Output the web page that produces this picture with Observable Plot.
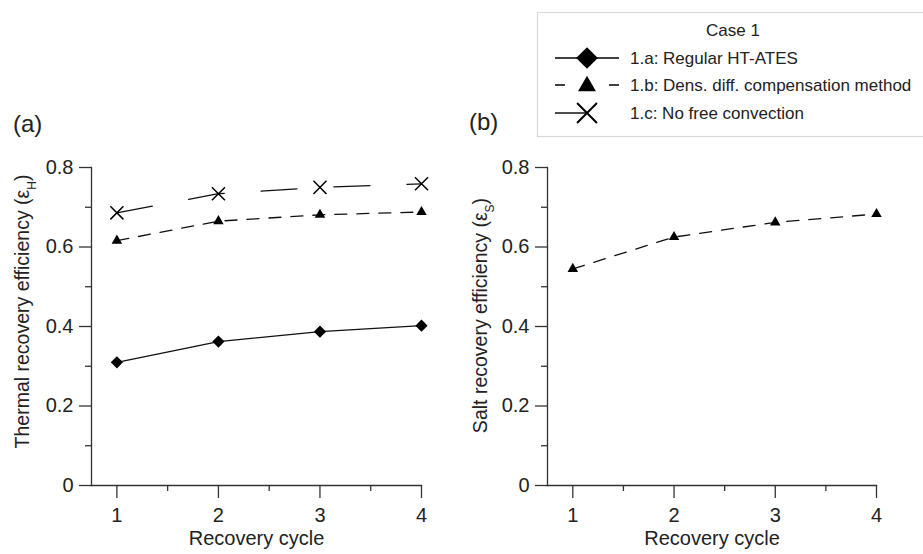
<!DOCTYPE html>
<html>
<head>
<meta charset="utf-8">
<script src="https://cdn.jsdelivr.net/npm/d3@7"></script>
<script src="https://cdn.jsdelivr.net/npm/@observablehq/plot@0.6"></script>
<style>
  body { margin: 0; background: #fff; }
  #wrap { position: relative; width: 923px; height: 554px; font-family: "Liberation Sans", Arial, sans-serif; color: #222; overflow: hidden; }
  .pan { position: absolute; top: 0; }
  .tag { position: absolute; font-size: 24px; line-height: 1; }
  #legend { position: absolute; left: 0; top: 0; }
</style>
</head>
<body>
<div id="wrap">
  <div class="tag" style="left:13px; top:112px;">(a)</div>
  <div class="tag" style="left:469px; top:110px;">(b)</div>
  <div id="left" class="pan" style="left:0px;"></div>
  <div id="right" class="pan" style="left:461px;"></div>
  <svg id="legend" width="923" height="554"></svg>
</div>
<script>
// ---- data ----
const cycles = [1, 2, 3, 4];
const thermalRegular  = [0.310, 0.362, 0.387, 0.402]; // 1.a
const thermalDensComp = [0.616, 0.665, 0.681, 0.688]; // 1.b
const thermalNoConv   = [0.686, 0.734, 0.750, 0.759]; // 1.c
const saltDensComp    = [0.545, 0.625, 0.662, 0.683]; // 1.b
const yTicks = [0, 0.2, 0.4, 0.6, 0.8];
const yMinorTicks = [0.1, 0.3, 0.5, 0.7];
const xTicks = [1, 2, 3, 4];
const xMinorTicks = [1.5, 2.5, 3.5];
const seriesNames = ["1.a: Regular HT-ATES", "1.b: Dens. diff. compensation method", "1.c: No free convection"];
const legendTitle = "Case 1";
const xLabel = "Recovery cycle";
const yLabelLeft = ["Thermal recovery efficiency (ε", "H", ")"];
const yLabelRight = ["Salt recovery efficiency (ε", "S", ")"];

const FONT = "'Liberation Sans', Arial, sans-serif";
const AX = "#333";

const rows = arr => cycles.map((c, i) => ({x: c, y: arr[i]}));

function axes() {
  return [
    Plot.frame({anchor: "left", stroke: AX, strokeWidth: 1.3}),
    Plot.frame({anchor: "bottom", stroke: AX, strokeWidth: 1.3}),
    Plot.axisY({ticks: yTicks, tickSize: 12, tickPadding: 6, fontSize: 20, fill: "#222", stroke: AX, strokeWidth: 1.3,
      tickFormat: d => d === 0 ? "0" : d.toFixed(1), label: null}),
    Plot.axisY({ticks: yMinorTicks, tickSize: 6, stroke: AX, strokeWidth: 1.3, tickFormat: () => "", label: null}),
    Plot.axisX({ticks: xTicks, tickSize: 13, tickPadding: 9, fontSize: 20, fill: "#222", stroke: AX, strokeWidth: 1.3,
      tickFormat: d => String(d), label: null}),
    Plot.axisX({ticks: xMinorTicks, tickSize: 6, stroke: AX, strokeWidth: 1.3, tickFormat: () => "", label: null}),
    Plot.text([xLabel], {frameAnchor: "bottom", dy: 59, fontSize: 20, fill: "#222"})
  ];
}

function subLabel(svg, parts) {
  const full = parts.join("");
  d3.select(svg).selectAll("text").filter(function() { return this.textContent === full; })
    .each(function() {
      const t = d3.select(this);
      t.text(null);
      t.append("tspan").text(parts[0]);
      t.append("tspan").attr("font-size", 12).attr("baseline-shift", "sub").text(parts[1]);
      t.append("tspan").text(parts[2]);
    });
}

const leftPlot = Plot.plot({
  width: 461, height: 554,
  marginLeft: 91, marginRight: 40, marginTop: 167, marginBottom: 69,
  style: {fontFamily: FONT, background: "transparent"},
  x: {domain: [0.75, 4]},
  y: {domain: [0, 0.8]},
  marks: [
    ...axes(),
    Plot.text([yLabelLeft.join("")], {frameAnchor: "left", textAnchor: "middle", rotate: -90, dx: -69, dy: -15, fontSize: 19.5, fill: "#222"}),
    Plot.line(rows(thermalRegular), {x: "x", y: "y", stroke: "#111", strokeWidth: 1.3}),
    Plot.line(rows(thermalDensComp), {x: "x", y: "y", stroke: "#111", strokeWidth: 1.3, strokeDasharray: "12,10"}),
    Plot.line(rows(thermalNoConv), {x: "x", y: "y", stroke: "#111", strokeWidth: 1.3, strokeDasharray: "36,37"}),
    Plot.dot(rows(thermalRegular), {x: "x", y: "y", symbol: "diamond2", r: 5.5, fill: "#000"}),
    Plot.dot(rows(thermalDensComp), {x: "x", y: "y", symbol: "triangle2", r: 5, fill: "#000"}),
    Plot.dot(rows(thermalNoConv), {x: "x", y: "y", symbol: "times", r: 6, stroke: "#000", strokeWidth: 1.5})
  ]
});
subLabel(leftPlot, yLabelLeft);
document.getElementById("left").append(leftPlot);

const rightPlot = Plot.plot({
  width: 462, height: 554,
  marginLeft: 86, marginRight: 47, marginTop: 167, marginBottom: 69,
  style: {fontFamily: FONT, background: "transparent"},
  x: {domain: [0.75, 4]},
  y: {domain: [0, 0.8]},
  marks: [
    ...axes(),
    Plot.text([yLabelRight.join("")], {frameAnchor: "left", textAnchor: "middle", rotate: -90, dx: -67, dy: -11, fontSize: 19.5, fill: "#222"}),
    Plot.line(rows(saltDensComp), {x: "x", y: "y", stroke: "#111", strokeWidth: 1.3, strokeDasharray: "12,10"}),
    Plot.dot(rows(saltDensComp), {x: "x", y: "y", symbol: "triangle2", r: 5, fill: "#000"})
  ]
});
subLabel(rightPlot, yLabelRight);
document.getElementById("right").append(rightPlot);

// ---- legend ----
const lg = d3.select("#legend").style("font-family", FONT);
lg.append("rect").attr("x", 537.5).attr("y", 12.5).attr("width", 390).attr("height", 124)
  .attr("fill", "#fff").attr("stroke", "#d8d8d8").attr("stroke-width", 1.2);
lg.append("text").attr("x", 733).attr("y", 30).attr("text-anchor", "middle").attr("dominant-baseline", "central")
  .attr("font-size", 17).attr("fill", "#222").text(legendTitle);
const rowY = [58, 85, 113];
const symbols = [d3.symbolDiamond2, d3.symbolTriangle2, d3.symbolTimes];
const symSize = [300, 230, 260];
seriesNames.forEach((name, i) => {
  const y = rowY[i];
  if (i === 0) lg.append("line").attr("x1", 555).attr("x2", 619).attr("y1", y).attr("y2", y).attr("stroke", "#000").attr("stroke-width", 1.4);
  if (i === 1) lg.append("line").attr("x1", 555).attr("x2", 619).attr("y1", y).attr("y2", y).attr("stroke", "#000").attr("stroke-width", 1.4).attr("stroke-dasharray", "10,44");
  if (i === 2) lg.append("line").attr("x1", 555).attr("x2", 587).attr("y1", y).attr("y2", y).attr("stroke", "#000").attr("stroke-width", 1.4);
  const p = lg.append("path").attr("d", d3.symbol(symbols[i], symSize[i])()).attr("transform", `translate(587,${i===1 ? y+1 : y})`);
  if (i === 2) p.attr("fill", "none").attr("stroke", "#000").attr("stroke-width", 2);
  else p.attr("fill", "#000");
  lg.append("text").attr("x", 630).attr("y", y).attr("dominant-baseline", "central")
    .attr("font-size", 17).attr("fill", "#222").text(name);
});
</script>
</body>
</html>
